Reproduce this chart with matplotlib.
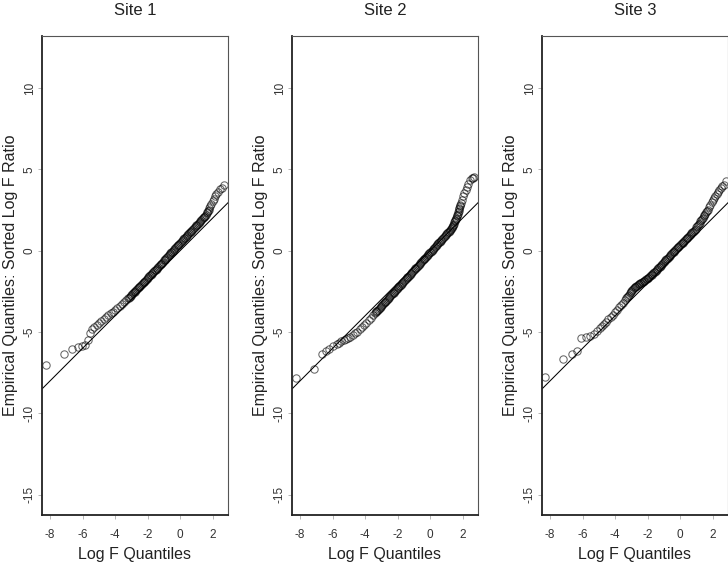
import matplotlib
matplotlib.use("Agg")
import matplotlib.pyplot as plt

plt.rcParams['font.family'] = ['Liberation Sans', 'DejaVu Sans']
plt.rcParams['axes.unicode_minus'] = False

titles = ["Site 1", "Site 2", "Site 3"]
x_ticks = [-8, -6, -4, -2, 0, 2]
y_ticks = [-15, -10, -5, 0, 5, 10]

# Site 1: theoretical log F quantiles (x) vs sorted log F ratios (y)
site1_x = [-8.26, -7.16, -6.63, -6.30, -6.03, -5.83, -5.68, -5.54, -5.42,
           -5.28, -5.13, -4.98, -4.84, -4.70, -4.56, -4.42, -4.28, -4.14, -4.00,
           -3.86, -3.72, -3.58, -3.44, -3.30,
           -3.20, -3.15, -3.10, -3.05, -3.00, -2.95, -2.90, -2.85, -2.80, -2.75,
           -2.70, -2.65, -2.60, -2.55, -2.50, -2.45, -2.40, -2.35, -2.30, -2.25,
           -2.20, -2.15, -2.10, -2.05, -2.00, -1.95, -1.90, -1.85, -1.80, -1.75,
           -1.70, -1.65, -1.60, -1.55, -1.50, -1.45, -1.40, -1.35, -1.30, -1.25,
           -1.20, -1.15, -1.10, -1.05, -1.00, -0.95, -0.90, -0.85, -0.80, -0.75,
           -0.70, -0.65, -0.60, -0.55, -0.50, -0.45, -0.40, -0.35, -0.30, -0.25,
           -0.20, -0.15, -0.10, -0.05, 0.00, 0.05, 0.10, 0.15, 0.20, 0.25,
           0.30, 0.35, 0.40, 0.45, 0.50, 0.55, 0.60, 0.65, 0.70, 0.75,
           0.80, 0.85, 0.90, 0.95, 1.00, 1.05, 1.10, 1.15, 1.20, 1.25,
           1.30, 1.35, 1.40, 1.45, 1.50, 1.55, 1.60,
           1.64, 1.68, 1.72, 1.76, 1.80, 1.86, 1.92, 2.00, 2.08, 2.16, 2.24,
           2.34, 2.45, 2.55, 2.69]
site1_y = [-7.03, -6.37, -6.02, -5.94, -5.86, -5.82, -5.49, -5.08, -4.83,
           -4.72, -4.59, -4.46, -4.34, -4.22, -4.10, -3.98, -3.86, -3.74, -3.62,
           -3.51, -3.39, -3.27, -3.15, -3.03,
           -2.93, -2.88, -2.83, -2.77, -2.72, -2.67, -2.62, -2.57, -2.52, -2.47,
           -2.42, -2.36, -2.31, -2.26, -2.21, -2.16, -2.11, -2.05, -2.00, -1.95,
           -1.90, -1.84, -1.79, -1.74, -1.68, -1.63, -1.58, -1.52, -1.47, -1.42,
           -1.37, -1.32, -1.27, -1.21, -1.16, -1.11, -1.06, -1.00, -0.95, -0.89,
           -0.84, -0.79, -0.74, -0.67, -0.60, -0.55, -0.49, -0.44, -0.38, -0.33,
           -0.27, -0.22, -0.16, -0.11, -0.05, 0.00, 0.06, 0.11, 0.17, 0.22,
           0.27, 0.33, 0.38, 0.43, 0.48, 0.54, 0.59, 0.64, 0.69, 0.75,
           0.80, 0.86, 0.91, 0.97, 1.02, 1.08, 1.13, 1.18, 1.23, 1.29,
           1.34, 1.40, 1.45, 1.50, 1.55, 1.61, 1.66, 1.72, 1.77, 1.83,
           1.88, 1.94, 1.99, 2.05, 2.10, 2.16, 2.22,
           2.29, 2.36, 2.44, 2.52, 2.61, 2.74, 2.88, 3.05, 3.20, 3.35, 3.50,
           3.62, 3.78, 3.88, 4.04]

# Site 2
site2_x = [-8.27, -7.12, -6.67, -6.42, -6.22, -5.99,
           -5.74, -5.60, -5.46, -5.32, -5.18, -5.04, -4.90, -4.76, -4.62, -4.48,
           -4.34, -4.20, -4.06, -3.92, -3.78, -3.64, -3.50,
           -3.40, -3.35, -3.30, -3.25, -3.20, -3.15, -3.10, -3.05, -3.00, -2.95,
           -2.90, -2.85, -2.80, -2.75, -2.70, -2.65, -2.60, -2.55, -2.50, -2.45,
           -2.40, -2.35, -2.30, -2.25, -2.20, -2.15, -2.10, -2.05, -2.00, -1.95,
           -1.90, -1.85, -1.80, -1.75, -1.70, -1.65, -1.60, -1.55, -1.50, -1.45,
           -1.40, -1.35, -1.30, -1.25, -1.20, -1.15, -1.10, -1.05, -1.00, -0.95,
           -0.90, -0.85, -0.80, -0.75, -0.70, -0.65, -0.60, -0.55, -0.50, -0.45,
           -0.40, -0.35, -0.30, -0.25, -0.20, -0.15, -0.10, -0.05, 0.00, 0.05,
           0.10, 0.15, 0.20, 0.25, 0.30, 0.35, 0.40, 0.45, 0.50, 0.55,
           0.60, 0.65, 0.70, 0.75, 0.80, 0.85, 0.90, 0.95, 1.00, 1.05,
           1.10, 1.15, 1.20, 1.25, 1.30,
           1.33, 1.36, 1.39, 1.42, 1.45, 1.48, 1.51, 1.54, 1.57, 1.60,
           1.63, 1.66, 1.69, 1.72, 1.75, 1.78, 1.81, 1.84, 1.87, 1.90,
           1.97, 2.04, 2.11, 2.19, 2.27, 2.36, 2.45, 2.55, 2.64, 2.72]
site2_y = [-7.84, -7.26, -6.36, -6.18, -6.03, -5.87,
           -5.73, -5.65, -5.58, -5.52, -5.45, -5.38, -5.30, -5.20, -5.09, -4.97,
           -4.84, -4.70, -4.56, -4.42, -4.27, -4.12, -3.97,
           -3.84, -3.79, -3.73, -3.68, -3.62, -3.57, -3.51, -3.46, -3.40, -3.35,
           -3.29, -3.24, -3.18, -3.13, -3.07, -3.02, -2.96, -2.91, -2.85, -2.80,
           -2.74, -2.69, -2.63, -2.58, -2.52, -2.47, -2.41, -2.36, -2.30, -2.25,
           -2.19, -2.14, -2.08, -2.03, -1.97, -1.92, -1.86, -1.81, -1.75, -1.70,
           -1.64, -1.59, -1.53, -1.48, -1.42, -1.37, -1.31, -1.26, -1.20, -1.15,
           -1.09, -1.04, -0.98, -0.93, -0.87, -0.82, -0.76, -0.71, -0.65, -0.60,
           -0.54, -0.49, -0.43, -0.38, -0.32, -0.27, -0.21, -0.16, -0.10, -0.05,
           0.01, 0.07, 0.12, 0.18, 0.23, 0.29, 0.34, 0.40, 0.45, 0.51,
           0.56, 0.62, 0.67, 0.73, 0.78, 0.84, 0.89, 0.95, 1.00, 1.06,
           1.12, 1.18, 1.24, 1.30, 1.36,
           1.42, 1.47, 1.54, 1.60, 1.67, 1.74, 1.81, 1.89, 1.96, 2.04,
           2.12, 2.20, 2.28, 2.37, 2.46, 2.55, 2.64, 2.74, 2.84, 2.94,
           3.14, 3.34, 3.52, 3.72, 3.92, 4.12, 4.34, 4.45, 4.50, 4.55]

# Site 3
site3_x = [-8.31, -7.19, -6.67, -6.36, -6.07, -5.80, -5.55, -5.31,
           -5.12, -4.96, -4.81, -4.67, -4.54, -4.41, -4.28, -4.15, -4.02, -3.90,
           -3.78, -3.66, -3.54, -3.42,
           -3.30, -3.25, -3.20, -3.15, -3.10, -3.05, -3.00, -2.95, -2.90, -2.85,
           -2.80, -2.75, -2.70, -2.65, -2.60, -2.55, -2.50, -2.45, -2.40, -2.35,
           -2.30, -2.25, -2.20, -2.15, -2.10, -2.05, -2.00, -1.95, -1.90, -1.85,
           -1.80, -1.75, -1.70, -1.65, -1.60, -1.55, -1.50, -1.45, -1.40, -1.35,
           -1.30, -1.25, -1.20, -1.15, -1.10, -1.05, -1.00, -0.95, -0.90, -0.85,
           -0.80, -0.75, -0.70, -0.65, -0.60, -0.55, -0.50, -0.45, -0.40, -0.35,
           -0.30, -0.25, -0.20, -0.15, -0.10, -0.05, 0.00, 0.05, 0.10, 0.15,
           0.20, 0.25, 0.30, 0.35, 0.40, 0.45, 0.50, 0.55, 0.60, 0.65,
           0.70, 0.75, 0.80, 0.85, 0.90, 0.95, 1.00, 1.05, 1.10, 1.15,
           1.20, 1.25, 1.30, 1.35, 1.40, 1.45, 1.50,
           1.55, 1.60, 1.65, 1.70, 1.78, 1.86, 1.94, 2.02, 2.10, 2.18,
           2.26, 2.34, 2.42, 2.51, 2.60, 2.68, 2.82]
site3_y = [-7.78, -6.68, -6.36, -6.15, -5.35, -5.31, -5.27, -5.12,
           -4.95, -4.78, -4.62, -4.48, -4.36, -4.22, -4.08, -3.93, -3.77, -3.62,
           -3.47, -3.33, -3.19, -3.05,
           -2.90, -2.83, -2.77, -2.70, -2.63, -2.57, -2.50, -2.44, -2.38, -2.31,
           -2.25, -2.21, -2.18, -2.14, -2.10, -2.07, -2.04, -2.01, -1.98, -1.95,
           -1.92, -1.88, -1.85, -1.81, -1.77, -1.74, -1.70, -1.65, -1.61, -1.56,
           -1.51, -1.47, -1.42, -1.37, -1.33, -1.28, -1.23, -1.18, -1.13, -1.08,
           -1.03, -0.98, -0.93, -0.87, -0.82, -0.76, -0.71, -0.65, -0.60, -0.54,
           -0.49, -0.43, -0.38, -0.32, -0.27, -0.21, -0.16, -0.10, -0.05, 0.00,
           0.05, 0.10, 0.15, 0.20, 0.25, 0.30, 0.35, 0.40, 0.45, 0.50,
           0.55, 0.60, 0.65, 0.70, 0.75, 0.80, 0.85, 0.90, 0.96, 1.01,
           1.07, 1.12, 1.18, 1.24, 1.30, 1.36, 1.43, 1.50, 1.57, 1.64,
           1.72, 1.80, 1.88, 1.96, 2.04, 2.12, 2.20,
           2.28, 2.36, 2.44, 2.52, 2.68, 2.83, 2.98, 3.12, 3.25, 3.37,
           3.50, 3.62, 3.75, 3.88, 3.98, 4.06, 4.28]

xs = [site1_x, site2_x, site3_x]
ys = [site1_y, site2_y, site3_y]

W, H = 728, 563
fig = plt.figure(figsize=(W / 100, H / 100), dpi=100)
fig.patch.set_facecolor('white')

lefts = [42, 292, 542]
for i in range(3):
    ax = fig.add_axes([lefts[i] / W, 1 - 515 / H, 186 / W, 479 / H])
    ax.plot(xs[i], ys[i], 'o', ms=5.3, mfc='none', mec='black', mew=0.75,
            alpha=0.6, linestyle='none')
    ax.axline((0, 0), slope=1, color='black', lw=0.75)
    ax.set_xlim(-8.5, 2.95)
    ax.set_ylim(-16.25, 13.2)

    ax.set_xticks(x_ticks)
    ax.set_xticklabels([str(t) for t in x_ticks])
    ax.set_yticks(y_ticks)
    ax.set_yticklabels([str(t) for t in y_ticks], rotation=90, va='center')
    ax.tick_params(direction='out', length=3, width=0.6, colors='#aaaaaa',
                   labelcolor='#333333', labelsize=8.5)
    ax.tick_params(axis='x', pad=7)
    ax.tick_params(axis='y', pad=1.5)

    for s in ['left', 'bottom']:
        ax.spines[s].set_linewidth(1.3)
        ax.spines[s].set_color('#222222')
    for s in ['top', 'right']:
        ax.spines[s].set_linewidth(0.8)
        ax.spines[s].set_color('#555555')

    ax.text(0.5, 1.044, titles[i], transform=ax.transAxes, ha='center',
            va='baseline', fontsize=12, color='#222222')
    ax.text(0.5, -0.092, "Log F Quantiles", transform=ax.transAxes,
            ha='center', va='baseline', fontsize=11.5, color='#222222')
    ax.text(-0.17, 0.5, "Empirical Quantiles: Sorted Log F Ratio",
            transform=ax.transAxes, ha='center', va='center', rotation=90,
            fontsize=11.5, color='#222222')

fig.savefig("out.png", dpi=100)
